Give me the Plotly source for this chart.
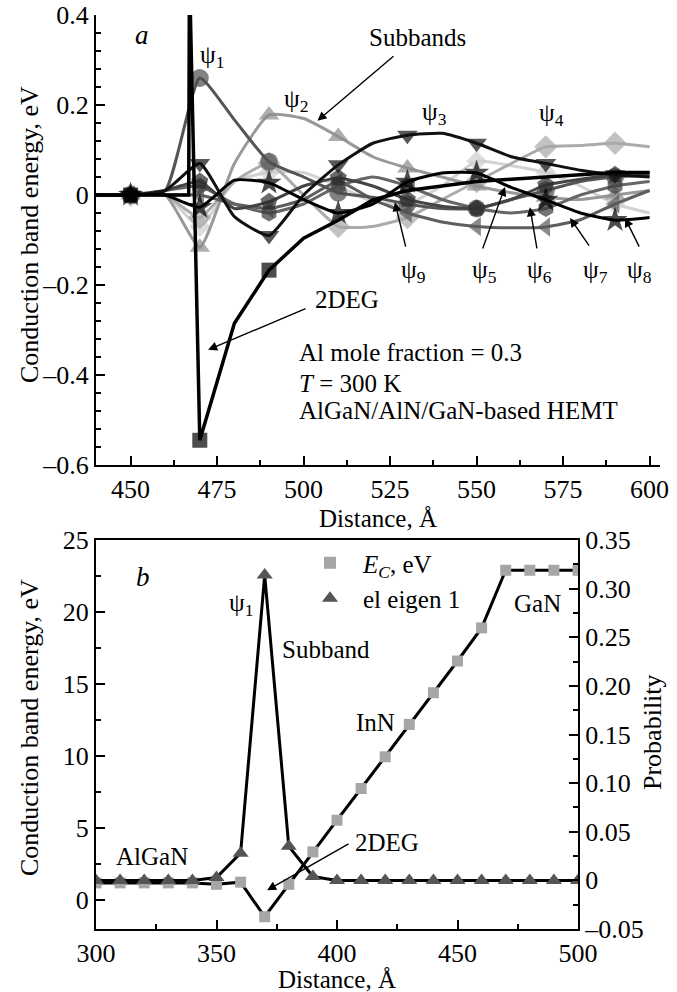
import plotly.graph_objects as go

FONT = "Liberation Serif"

# ---------------- Panel a data ----------------
dist_a = [440, 450, 460, 470, 480, 490, 500, 510, 520, 530, 540, 550, 560, 570, 580, 590, 600]
psi1 = [0, 0, 0.01, 0.26, 0.167, 0.074, 0.04, 0.005, -0.005, -0.02, -0.03, -0.03, -0.01, 0.01, 0.03, 0.04, 0.045]
psi2 = [0, 0, 0.0, -0.116, 0.07, 0.178, 0.17, 0.13, 0.085, 0.06, 0.04, 0.02, 0.005, -0.005, -0.01, 0.0, 0.01]
psi3 = [0, 0, 0.01, 0.07, -0.048, -0.09, 0.0, 0.067, 0.115, 0.133, 0.137, 0.115, 0.085, 0.07, 0.055, 0.045, 0.04]
psi4 = [0, 0, 0.0, -0.05, 0.03, 0.07, 0.0, -0.07, -0.07, -0.05, -0.01, 0.03, 0.07, 0.107, 0.11, 0.115, 0.107]
psi5 = [0, 0, 0.01, 0.03, -0.03, -0.015, 0.02, 0.038, 0.02, -0.01, -0.025, -0.03, -0.01, 0.022, 0.035, 0.045, 0.05]
psi6 = [0, 0, 0.01, 0.02, -0.02, -0.04, -0.02, 0.02, 0.04, 0.02, -0.01, -0.03, -0.04, -0.03, 0.0, 0.02, 0.03]
psi7 = [0, 0, 0.0, 0.0, -0.02, -0.03, -0.01, 0.03, -0.01, -0.04, -0.06, -0.07, -0.073, -0.071, -0.055, -0.02, 0.01]
psi8 = [0, 0, 0.0, -0.027, 0.033, 0.027, -0.01, -0.04, -0.02, 0.029, 0.049, 0.049, 0.017, -0.011, -0.04, -0.056, -0.05]
psi9 = [0, 0, 0.0, -0.07, 0.03, 0.05, 0.05, 0.02, -0.015, -0.02, 0.02, 0.075, 0.065, 0.05, 0.02, -0.02, -0.04]

dist_ec_a = [440, 450, 460, 466.8, 467, 470, 480, 490, 500, 510, 520, 530, 540, 550, 560, 570, 580, 590, 600]
ec_a = [0, 0, 0, 0, 0.5, -0.545, -0.285, -0.167, -0.096, -0.056, -0.011, 0.01, 0.02, 0.03, 0.035, 0.04, 0.045, 0.05, 0.05]

# ---------------- Panel b data ----------------
dist_b = [300, 310, 320, 330, 340, 350, 360, 370, 380, 390, 400, 410, 420, 430, 440, 450, 460, 470, 480, 490, 500]
ec_b = [1.2, 1.2, 1.2, 1.2, 1.2, 1.1, 1.25, -1.15, 1.1, 3.35, 5.55, 7.75, 9.95, 12.2, 14.4, 16.6, 18.9, 22.9, 22.9, 22.9, 22.9]
prob_b = [0.0, 0.0, 0.0, 0.0, 0.0, 0.003, 0.028, 0.314, 0.035, 0.004, 0.0, 0.0, 0.0, 0.0, 0.0, 0.0, 0.0, 0.0, 0.0, 0.0, 0.0]

W, H = 677, 992


def px(x):
    return x / W


def py(y):
    return 1 - y / H


fig = go.Figure()

series = [
    ("ψ9", psi9, "diamond", "#cfcfcf", "#d2d2d2", 16),
    ("ψ4", psi4, "diamond", "#a8a8a8", "#ababab", 18),
    ("ψ2", psi2, "triangle-up", "#8c8c8c", "#999999", 18),
    ("ψ7", psi7, "triangle-left", "#5a5a5a", "#5e5e5e", 17),
    ("ψ6", psi6, "hexagon", "#3a3a3a", "#666666", 17),
    ("ψ1", psi1, "circle", "#4d4d4d", "#555555", 18),
    ("ψ5", psi5, "pentagon", "#2b2b2b", "#444444", 18),
    ("ψ3", psi3, "triangle-down", "#111111", "#111111", 18),
    ("ψ8", psi8, "star", "#000000", "#000000", 19),
]

for name, vals, sym, mcol, lcol, msz in series:
    sizes = [msz if (450 <= d <= 590 and (d - 450) % 20 == 0) else 0 for d in dist_a]
    fig.add_trace(go.Scatter(
        x=dist_a, y=vals, mode="lines+markers", name=name, showlegend=False,
        line=dict(color=lcol, width=3, shape="spline", smoothing=0.5),
        marker=dict(symbol=sym, size=sizes, color=mcol, line=dict(width=0)),
        xaxis="x", yaxis="y",
    ))

ec_sizes = [15 if d in (450, 470, 490) else 0 for d in dist_ec_a]
fig.add_trace(go.Scatter(
    x=dist_ec_a, y=ec_a, mode="lines+markers", name="2DEG", showlegend=False,
    line=dict(color="black", width=3.5),
    marker=dict(symbol="square", size=ec_sizes, color="black", line=dict(width=0)),
    xaxis="x", yaxis="y",
))

# Panel b traces
fig.add_trace(go.Scatter(
    x=dist_b, y=ec_b, mode="lines+markers", showlegend=False,
    line=dict(color="black", width=3),
    marker=dict(symbol="square", size=11, color="#a6a6a6", line=dict(width=0)),
    xaxis="x2", yaxis="y3",
))
fig.add_trace(go.Scatter(
    x=dist_b, y=prob_b, mode="lines+markers", showlegend=False,
    line=dict(color="black", width=3),
    marker=dict(symbol="triangle-up", size=14, color="#555555", line=dict(width=0)),
    xaxis="x2", yaxis="y4",
))
# legend entries
fig.add_trace(go.Scatter(
    x=[None], y=[None], mode="markers", name="<i>E</i><sub><i>C</i></sub>, eV",
    marker=dict(symbol="square", size=12, color="#a6a6a6"), xaxis="x2", yaxis="y3",
))
fig.add_trace(go.Scatter(
    x=[None], y=[None], mode="markers", name="el eigen 1",
    marker=dict(symbol="triangle-up", size=14, color="#555555"), xaxis="x2", yaxis="y3",
))

TICK = 26
TXT = 25
tickfont = dict(family=FONT, size=TICK, color="black")


def axis(**kw):
    d = dict(showline=True, linecolor="black", linewidth=2, ticks="inside", ticklen=9,
             tickwidth=1.5, tickcolor="black", showgrid=False, zeroline=False,
             tickfont=tickfont, automargin=False)
    d.update(kw)
    return d


a_yvals = [-0.6, -0.4, -0.2, 0, 0.2, 0.4]
a_ytext = ["–0.6", "–0.4", "–0.2", "0", "0.2", "0.4"]
b_y2vals = [-0.05, 0, 0.05, 0.10, 0.15, 0.20, 0.25, 0.30, 0.35]
b_y2text = ["–0.05", "0", "0.05", "0.10", "0.15", "0.20", "0.25", "0.30", "0.35"]

minor_kw = dict(ticks="inside", ticklen=5, tickwidth=1.5, tickcolor="black", tickmode="linear")

fig.update_layout(
    width=W, height=H,
    margin=dict(l=0, r=0, t=0, b=0, pad=0, autoexpand=False),
    paper_bgcolor="white", plot_bgcolor="white",
    font=dict(family=FONT, size=TXT, color="black"),
    xaxis=axis(domain=[px(96), px(660)], range=[440, 603], anchor="y",
               tickmode="linear", tick0=450, dtick=25,
               minor=dict(tick0=450, dtick=12.5, **minor_kw)),
    yaxis=axis(domain=[py(465), py(15)], range=[-0.6, 0.4], anchor="x",
               tickmode="array", tickvals=a_yvals, ticktext=a_ytext,
               minor=dict(tick0=0, dtick=0.04, **minor_kw)),
    xaxis2=axis(domain=[px(96), px(578)], range=[300, 500], anchor="y3", mirror=True,
                tickmode="linear", tick0=300, dtick=50,
                minor=dict(tick0=300, dtick=25, **minor_kw)),
    yaxis3=axis(domain=[py(929), py(540)], range=[-2, 25], anchor="x2",
                tickmode="linear", tick0=0, dtick=5,
                minor=dict(tick0=0, dtick=2.5, **minor_kw)),
    yaxis4=axis(overlaying="y3", side="right", range=[-0.05, 0.35], anchor="x2",
                tickmode="array", tickvals=b_y2vals, ticktext=b_y2text,
                minor=dict(tick0=0, dtick=0.025, **minor_kw)),
    legend=dict(x=px(297), y=py(540), xanchor="left", yanchor="top",
                bgcolor="rgba(0,0,0,0)", borderwidth=0, itemwidth=56,
                font=dict(family=FONT, size=TXT, color="black"), tracegroupgap=0),
)

ann = []


def T(text, x, y, xref="x", yref="y", size=TXT, xanchor="center", yanchor="middle", angle=0):
    ann.append(dict(text=text, x=x, y=y, xref=xref, yref=yref, showarrow=False,
                    font=dict(family=FONT, size=size, color="black"),
                    xanchor=xanchor, yanchor=yanchor, textangle=angle))


def A(x, y, axx, ayy, xref="x", yref="y", axref="x", ayref="y"):
    ann.append(dict(text="", x=x, y=y, ax=axx, ay=ayy, xref=xref, yref=yref,
                    axref=axref, ayref=ayref, showarrow=True, arrowhead=2,
                    arrowsize=1.3, arrowwidth=1.4, arrowcolor="black"))


# panel a texts
T("<i>a</i>", 453.3, 0.356, size=27)
T("ψ<sub>1</sub>", 473.5, 0.307)
T("ψ<sub>2</sub>", 497.8, 0.211)
T("Subbands", 532.8, 0.351)
T("ψ<sub>3</sub>", 537.7, 0.182)
T("ψ<sub>4</sub>", 571.5, 0.178)
T("ψ<sub>9</sub>", 531.9, -0.171)
T("ψ<sub>5</sub>", 552.4, -0.171)
T("ψ<sub>6</sub>", 568.3, -0.171)
T("ψ<sub>7</sub>", 584.5, -0.171)
T("ψ<sub>8</sub>", 597.2, -0.171)
T("2DEG", 512.5, -0.233)
T("Al mole fraction = 0.3", 498.1, -0.351, xanchor="left")
T("<i>T</i> = 300 K", 498.1, -0.418, xanchor="left")
T("AlGaN/AlN/GaN-based HEMT", 498.1, -0.478, xanchor="left")
A(504, 0.165, 526.4, 0.311)
A(526.4, -0.016, 529.6, -0.118)
A(558.2, 0.018, 551.6, -0.122)
A(565.4, -0.027, 567.5, -0.122)
A(577.0, -0.051, 582.8, -0.116)
A(592.9, -0.051, 597.2, -0.118)
A(472.4, -0.344, 501.0, -0.251)

# panel b texts
T("<i>b</i>", 319.5, 22.4, xref="x2", yref="y3", size=27)
T("ψ<sub>1</sub>", 360.2, 20.5, xref="x2", yref="y3")
T("Subband", 395.4, 17.4, xref="x2", yref="y3")
T("InN", 415.8, 12.3, xref="x2", yref="y3")
T("GaN", 483.4, 20.6, xref="x2", yref="y3")
T("AlGaN", 323.2, 3.0, xref="x2", yref="y3")
T("2DEG", 420.7, 4.0, xref="x2", yref="y3")
A(371.0, 0.69, 405.4, 3.96, xref="x2", yref="y3", axref="x2", ayref="y3")

# axis titles
T("Conduction band energy, eV", px(29), py(235), xref="paper", yref="paper", size=26, angle=-90)
T("Distance, Å", px(378), py(518), xref="paper", yref="paper", size=25)
T("Conduction band energy, eV", px(29), py(728), xref="paper", yref="paper", size=26, angle=-90)
T("Distance, Å", px(337), py(979), xref="paper", yref="paper", size=25)
T("Probability", px(652), py(732), xref="paper", yref="paper", size=26, angle=-90)

fig.update_layout(annotations=ann)
fig.write_html("out.html")
